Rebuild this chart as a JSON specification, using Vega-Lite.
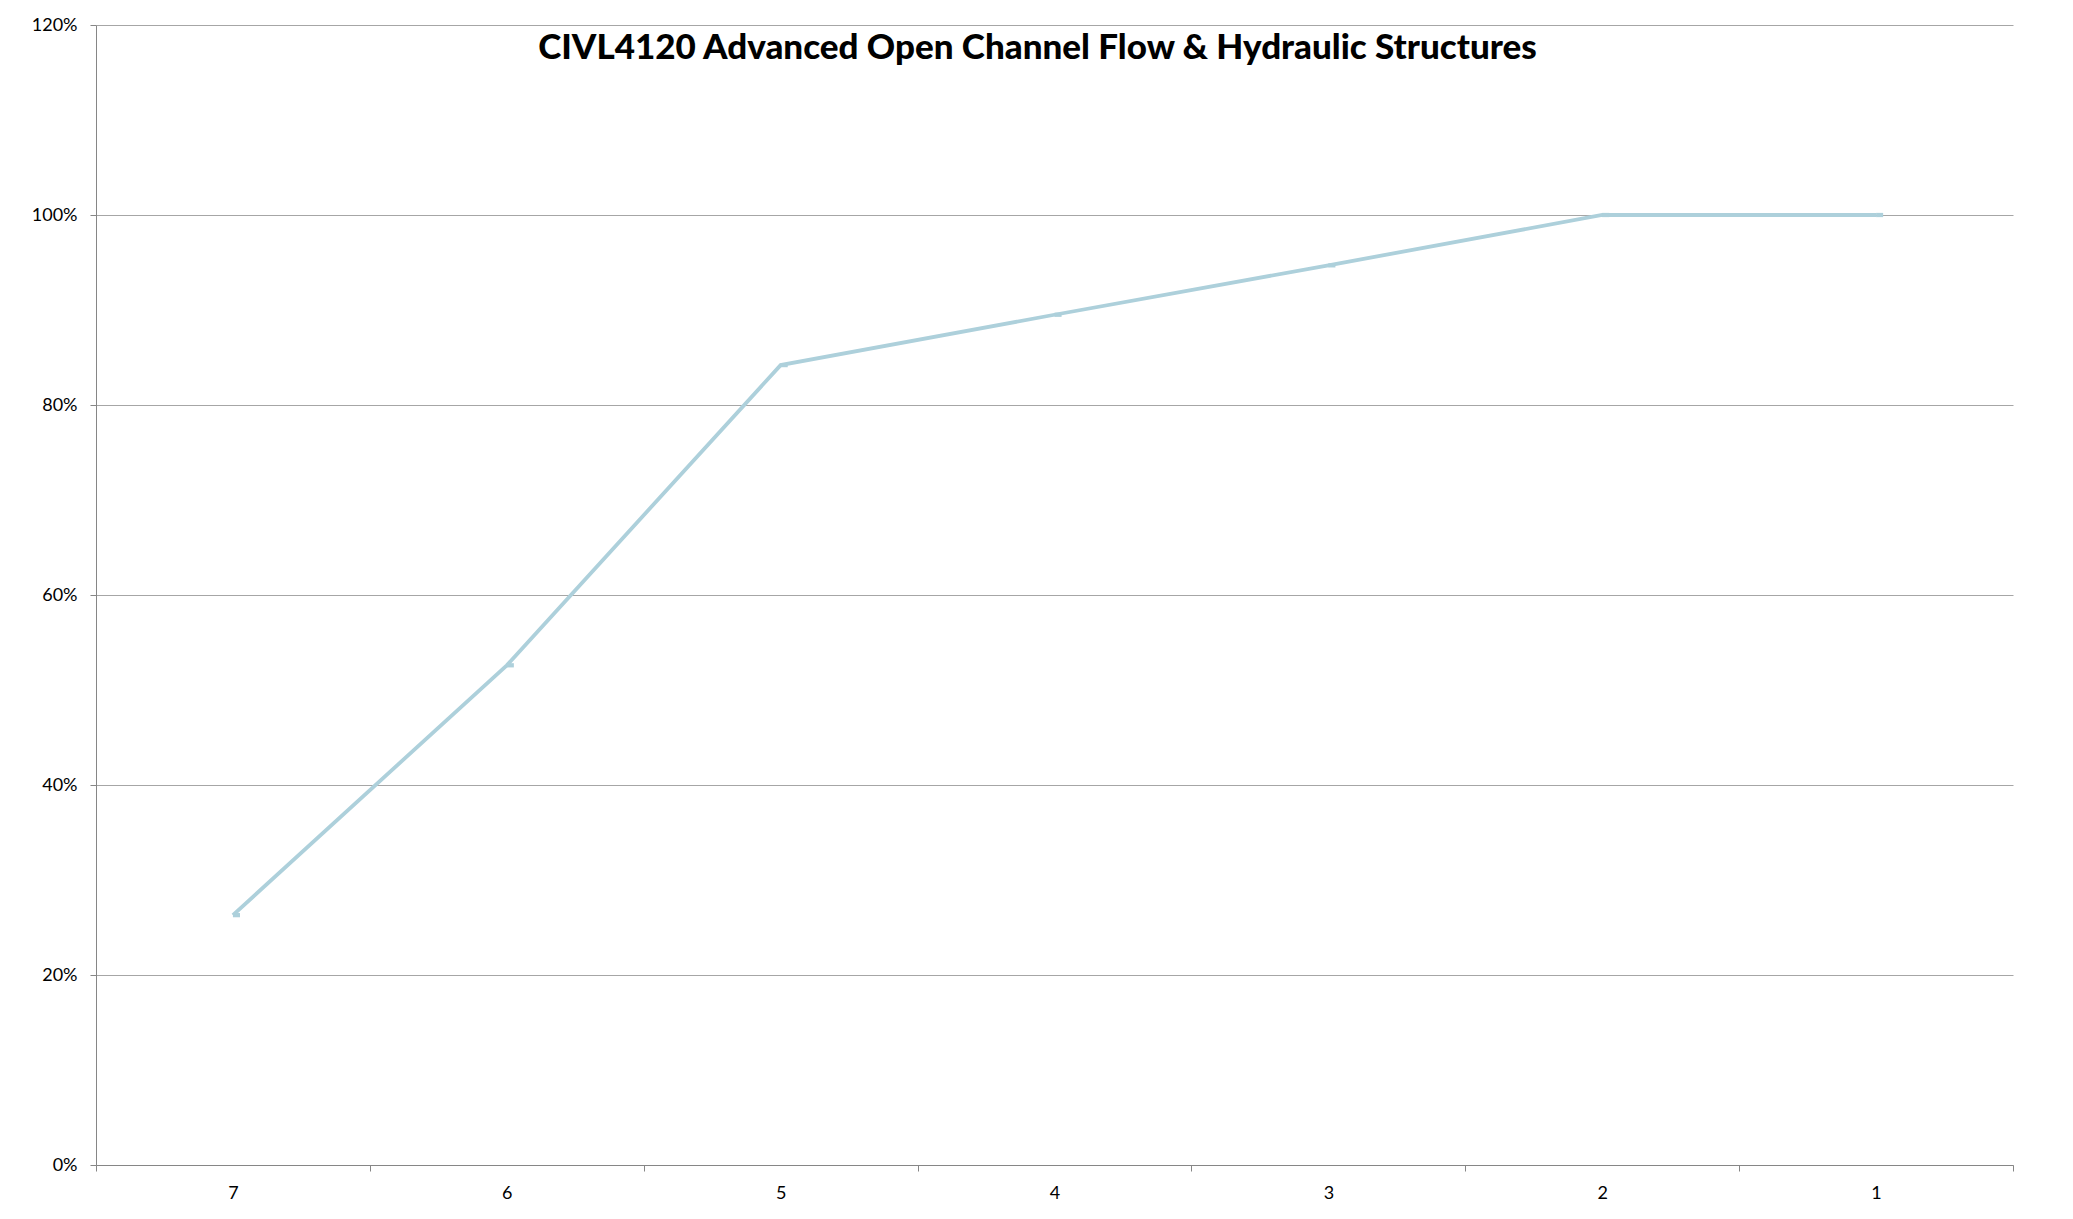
{
  "$schema": "https://vega.github.io/schema/vega-lite/v6.json",
  "autosize": {"type": "none"},
  "padding": {"left": 96, "top": 25, "right": 60, "bottom": 54},
  "width": 1917,
  "height": 1140,
  "background": "white",
  "title": {
    "text": "CIVL4120 Advanced Open Channel Flow & Hydraulic Structures",
    "font": "Lato",
    "fontSize": 35,
    "fontWeight": 900,
    "color": "#000000",
    "anchor": "middle",
    "baseline": "alphabetic",
    "offset": -78,
    "dx": -17
  },
  "data": {
    "values": [
      {"section": "7", "value": 0.263},
      {"section": "6", "value": 0.526},
      {"section": "5", "value": 0.842},
      {"section": "4", "value": 0.895},
      {"section": "3", "value": 0.947},
      {"section": "2", "value": 1.0},
      {"section": "1", "value": 1.0}
    ]
  },
  "encoding": {
    "x": {
      "field": "section",
      "type": "ordinal",
      "sort": ["7", "6", "5", "4", "3", "2", "1"],
      "scale": {"type": "band", "paddingInner": 0, "paddingOuter": 0},
      "axis": {
        "title": null,
        "tickBand": "extent",
        "labelAngle": 0,
        "domainColor": "#868686",
        "tickColor": "#868686",
        "tickSize": 6,
        "labelPadding": 13,
        "labelFont": "Lato",
        "labelFontSize": 18,
        "labelColor": "#000000",
        "grid": false
      }
    },
    "y": {
      "field": "value",
      "type": "quantitative",
      "scale": {"domain": [0, 1.2], "nice": false, "zero": true},
      "axis": {
        "title": null,
        "format": ".0%",
        "values": [0, 0.2, 0.4, 0.6, 0.8, 1.0, 1.2],
        "grid": true,
        "gridColor": "#A6A6A6",
        "gridWidth": 1,
        "domainColor": "#868686",
        "tickColor": "#868686",
        "tickSize": 6,
        "labelPadding": 13,
        "labelFont": "Lato",
        "labelFontSize": 18,
        "labelColor": "#000000"
      }
    }
  },
  "layer": [
    {
      "mark": {"type": "line", "color": "#ADD0DB", "strokeWidth": 3.8}
    },
    {
      "mark": {
        "type": "point",
        "shape": "M0,-0.3L1,-0.3L1,0.3L0,0.3Z",
        "filled": true,
        "size": 200,
        "color": "#ADD0DB",
        "opacity": 1
      }
    }
  ],
  "config": {
    "view": {"stroke": null}
  }
}
